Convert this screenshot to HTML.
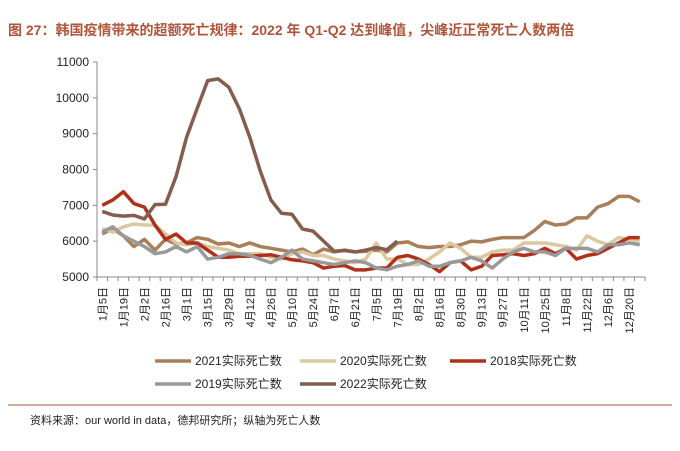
<!DOCTYPE html>
<html><head><meta charset="utf-8">
<style>
body{margin:0;width:680px;height:446px;background:#fff;font-family:"Liberation Sans","Noto Sans CJK SC",sans-serif;overflow:hidden}
</style></head><body>
<svg width="680" height="446" xmlns="http://www.w3.org/2000/svg" id="chart">
<text x="8" y="35" font-size="14" font-weight="bold" fill="#b0553a">图 27：韩国疫情带来的超额死亡规律：2022 年 Q1-Q2 达到峰值，尖峰近正常死亡人数两倍</text>
<g id="axes"></g><g id="series"></g><g id="legend"></g>
<line x1="8" y1="405" x2="672" y2="405" stroke="#b0553a" stroke-width="1"/>
<text x="30" y="424" font-size="11" fill="#222">资料来源：our world in data，德邦研究所；纵轴为死亡人数</text>
</svg>
<script>
const yTicks=[5000,6000,7000,8000,9000,10000,11000];
const xLabels=["1月5日","1月19日","2月2日","2月16日","3月1日","3月15日","3月29日","4月12日","4月26日","5月10日","5月24日","6月7日","6月21日","7月5日","7月19日","8月2日","8月16日","8月30日","9月13日","9月27日","10月11日","10月25日","11月8日","11月22日","12月6日","12月20日"];
const s2021=[6200,6350,6150,5850,6050,5750,6050,5920,5950,6100,6050,5920,5950,5850,5950,5850,5800,5750,5700,5780,5620,5780,5700,5750,5700,5720,5750,5700,5950,5980,5850,5820,5850,5850,5900,6000,5980,6050,6100,6100,6100,6300,6550,6450,6480,6650,6650,6950,7050,7250,7250,7100];
const s2020=[6350,6250,6400,6480,6450,6450,6200,5950,5900,5950,5850,5800,5750,5650,5650,5650,5550,5500,5650,5700,5600,5600,5500,5450,5400,5500,5950,5500,5500,5350,5350,5500,5700,5950,5800,5550,5550,5700,5750,5750,5950,5950,5950,5900,5850,5750,6150,6000,5900,6100,6050,6000];
const s2018=[7000,7150,7380,7050,6950,6450,6050,6200,5950,5950,5750,5550,5550,5580,5580,5600,5620,5550,5480,5450,5400,5250,5300,5320,5200,5200,5250,5250,5550,5600,5500,5350,5150,5400,5450,5200,5300,5600,5620,5650,5600,5650,5800,5650,5800,5500,5600,5650,5800,5950,6100,6100];
const s2019=[6250,6400,6150,6000,5850,5650,5700,5850,5700,5850,5500,5550,5650,5650,5600,5500,5400,5550,5750,5500,5450,5400,5350,5400,5450,5400,5250,5200,5300,5350,5450,5300,5300,5400,5450,5550,5450,5250,5500,5700,5800,5700,5700,5600,5800,5800,5800,5700,5900,5900,5950,5900];
const s2022=[6830,6730,6700,6720,6620,7020,7030,7800,8900,9700,10480,10530,10300,9700,8900,7950,7150,6780,6750,6340,6280,6000,5720,5740,5700,5750,5820,5760,6000];
const NS="http://www.w3.org/2000/svg";
const x0=97,x1=645,yTop=62,yBot=277,N=52,band=(x1-x0)/N;
function X(i){return x0+band*(i+0.5);}
function Y(v){return yBot-(v-5000)/6000*(yBot-yTop);}
function mk(t,a,p){const e=document.createElementNS(NS,t);for(const k in a)e.setAttribute(k,a[k]);p.appendChild(e);return e;}
const ax=document.getElementById('axes');
let l=mk('line',{x1:x0,y1:yTop,x2:x0,y2:yBot,stroke:'#888'},ax);


yTicks.forEach(v=>{
 mk('line',{x1:x0-4,y1:Y(v),x2:x0,y2:Y(v),stroke:'#888'},ax);
 const t=mk('text',{x:x0-8,y:Y(v)+4,'font-size':12,'text-anchor':'end',fill:'#222'},ax);
 t.textContent=v;
 
 
});
l=mk('line',{x1:x0,y1:yBot,x2:x1,y2:yBot,stroke:'#888'},ax);


for(let i=0;i<=N;i++)mk('line',{x1:x0+band*i,y1:yBot,x2:x0+band*i,y2:yBot+4,stroke:'#888'},ax);
xLabels.forEach((s,k)=>{
 const x=X(k*2)+4,y=yBot+10;
 const t=mk('text',{x:x,y:y,'font-size':11,fill:'#222','text-anchor':'end',transform:`rotate(-90 ${x} ${y})`},ax);
 t.textContent=s;
 
 
});
const ser=[["2021实际死亡数",s2021,"#a97f5a"],["2020实际死亡数",s2020,"#dcc8a0"],["2018实际死亡数",s2018,"#b0301a"],["2019实际死亡数",s2019,"#999999"],["2022实际死亡数",s2022,"#845d4e"]];
const sg=document.getElementById('series');
[0,1,2,3,4].forEach(k=>{
 const [n,d,c]=ser[k];
 const p=mk('polyline',{points:d.map((v,i)=>X(i)+','+Y(v)).join(' '),fill:'none',stroke:c,'stroke-width':3.5,'stroke-linejoin':'round'},sg);
 
 
});
const lg=document.getElementById('legend');
const pos=[[155,361],[300,361],[450,361],[155,384],[300,384]];
ser.forEach(([n,d,c],k)=>{
 const [x,y]=pos[k];
 const g=mk('g',{},lg);
 
 
 mk('line',{x1:x,y1:y,x2:x+36,y2:y,stroke:c,'stroke-width':3.5},g);
 const t=mk('text',{x:x+40,y:y+4,'font-size':12,fill:'#222'},g);
 t.textContent=n;
});
</script>
</body></html>
